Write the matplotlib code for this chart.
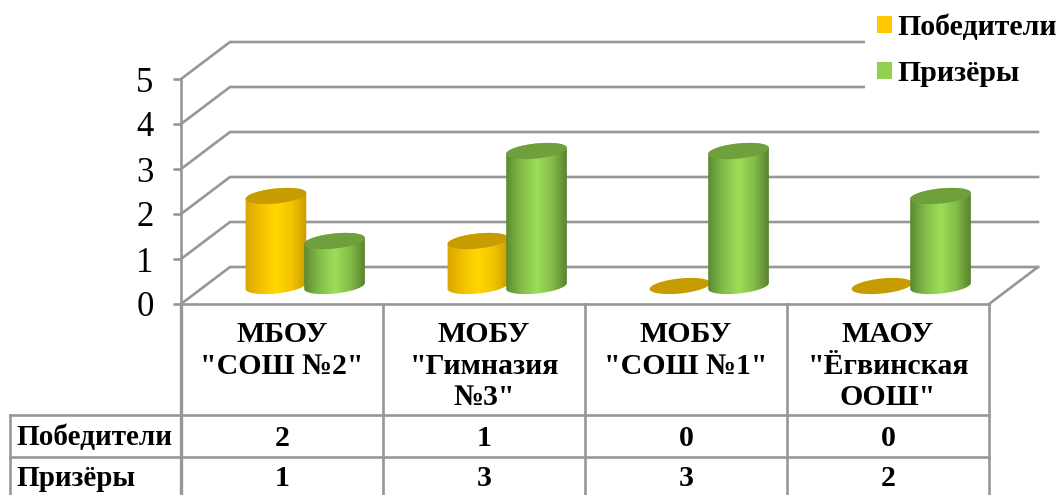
import numpy as np
import matplotlib
matplotlib.use("Agg")
import matplotlib.pyplot as plt
from matplotlib.colors import LinearSegmentedColormap
from matplotlib.patches import Patch, Polygon

# ---- data ----
categories = ['МБОУ\n"СОШ №2"', 'МОБУ\n"Гимназия\n№3"', 'МОБУ\n"СОШ №1"', 'МАОУ\n"Ёгвинская\nООШ"']
series_names = ['Победители', 'Призёры']
winners = [2, 1, 0, 0]
prize = [1, 3, 3, 2]
y_ticks = [0, 1, 2, 3, 4, 5]

# ---- style ----
W, H = 1059, 495
GREY = '#979797'
LW = 1.9
PX = 202.0   # pixels per category
PY = 45.0    # pixels per value unit
DX, DY = 49 / PX, 37 / PY   # depth of the 3D box
BASE = 18 / PY              # floor position of the bars
OFFS = [0.47, 0.76]
A, B, TILT = 30.5, 7.5, np.deg2rad(6)
CMAPS = [LinearSegmentedColormap.from_list('y', ['#D8A600', '#F2C000', '#FFD800', '#F5C400', '#C99C00']),
         LinearSegmentedColormap.from_list('g', ['#5C8A30', '#84BE4A', '#9CDE58', '#84BC48', '#567F2C'])]
TOPS = ['#C69C00', '#70A03C']
SOLID = ['#FFC800', '#92D050']

plt.rcParams['font.family'] = ['Liberation Serif', 'DejaVu Serif']
fig = plt.figure(figsize=(W / 100, H / 100), dpi=100)
ax = fig.add_axes([181 / W, (H - 304) / H, 808 / W, 225 / H])


def arc(cx, cy, t0, t1, n=60):
    t = np.linspace(t0, t1, n)
    x = A * np.cos(t) * np.cos(TILT) - B * np.sin(t) * np.sin(TILT)
    y = A * np.cos(t) * np.sin(TILT) + B * np.sin(t) * np.cos(TILT)
    return np.column_stack([cx + x / PX, cy + y / PY])


def cylinder(x, value, k, z):
    tr = np.arctan2(-B * np.sin(TILT), A * np.cos(TILT))
    tl = tr + np.pi
    top_y = BASE + value
    if value > 0:
        body = np.vstack([arc(x, BASE, tl, tr + 2 * np.pi), arc(x, top_y, tr, tl)])
        clip = Polygon(body, closed=True, transform=ax.transData, fc='none', ec='none')
        ax.add_patch(clip)
        im = ax.imshow(np.linspace(0, 1, 128)[None, :], cmap=CMAPS[k], aspect='auto',
                       extent=[x - 31 / PX, x + 31 / PX, BASE - 12 / PY, top_y + 12 / PY],
                       zorder=z, interpolation='bilinear')
        im.set_clip_path(clip)
    ax.add_patch(Polygon(arc(x, top_y, 0, 2 * np.pi), closed=True, fc=TOPS[k], ec='none',
                         zorder=z + 0.1, clip_on=False))


# back wall and floor
n = len(categories)
for v in y_ticks:
    ax.plot([0, DX, n + DX], [v, v + DY, v + DY], color=GREY, lw=LW, clip_on=False, zorder=1,
            solid_joinstyle='miter')
ax.plot([n, n + DX], [0, DY], color=GREY, lw=LW, clip_on=False, zorder=1)

# cylinders
for i in range(n):
    cylinder(i + OFFS[0], winners[i], 0, 2 + i)
    cylinder(i + OFFS[1], prize[i], 1, 2.5 + i)

# axes
ax.set_xlim(0, n)
ax.set_ylim(0, 5)
ax.patch.set_alpha(0)
for s in ['top', 'right']:
    ax.spines[s].set_visible(False)
for s in ['left', 'bottom']:
    ax.spines[s].set_color(GREY)
    ax.spines[s].set_linewidth(LW)
ax.set_xticks([])
ax.set_yticks(y_ticks)
ax.set_yticklabels([str(v) for v in y_ticks], fontsize=25, color='black')
ax.tick_params(axis='y', length=5.8, width=LW, color=GREY, pad=14)

# data table under the chart
ROW_TOP, ROW_MID, ROW_BOT = -111 / PY, -153 / PY, -190 / PY
LEFT = -171 / PX
tkw = dict(color=GREY, lw=LW, clip_on=False, zorder=1)
for i in range(n + 1):
    ax.plot([i, i], [0, ROW_BOT], **{**tkw, 'lw': 2.4 if i == 0 else LW})
for r in (ROW_TOP, ROW_MID):
    ax.plot([LEFT, n], [r, r], **tkw)
ax.plot([LEFT, LEFT], [ROW_TOP, ROW_BOT], **tkw)

FS = 21.5
for i, c in enumerate(categories):
    ax.text(i + 0.5, -17 / PY, c, ha='center', va='top', fontsize=FS, fontweight='bold',
            linespacing=1.22, clip_on=False)
for name, vals, yc in zip(series_names, [winners, prize], [-134 / PY, -175 / PY]):
    ax.text(-165 / PX, yc, name, ha='left', va='center', fontsize=21, fontweight='bold')
    for i, v in enumerate(vals):
        ax.text(i + 0.5, yc, str(v), ha='center', va='center', fontsize=FS, fontweight='bold')

# legend
handles = [Patch(fc=c, ec='none') for c in SOLID]
leg = ax.legend(handles, series_names, loc='upper left', bbox_to_anchor=(865 / W, 1 - 2 / H),
                bbox_transform=fig.transFigure, borderaxespad=0, frameon=True, framealpha=1,
                edgecolor='none', facecolor='white', borderpad=0.4, labelspacing=0.65,
                handlelength=0.5, handleheight=0.5, handletextpad=0.2,
                prop={'family': 'Liberation Serif', 'weight': 'bold', 'size': FS})
leg.set_zorder(20)

fig.savefig('out.png', dpi=100, facecolor='white')
